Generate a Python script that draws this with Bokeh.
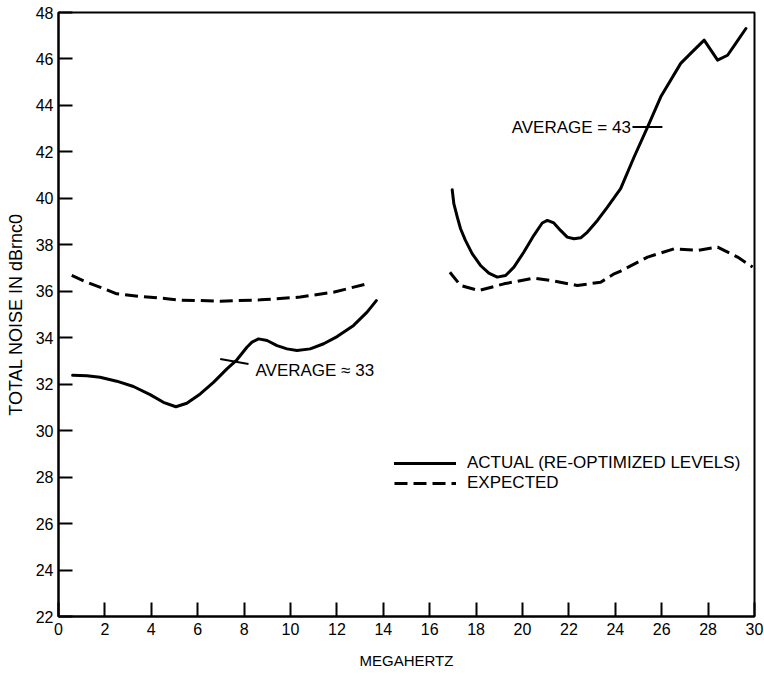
from bokeh.plotting import figure
from bokeh.models import Range1d, FixedTicker, Legend, LegendItem
from bokeh.embed import file_html
from bokeh.resources import INLINE

# Measured noise, lower band (0.6-13.7 MHz)
low_mhz_actual = [0.61, 1.22, 1.79, 2.51, 3.23, 3.95, 4.52, 5.06, 5.53, 6.11, 6.68, 7.26, 7.69,
                  8.12, 8.34, 8.62, 8.99, 9.42, 9.85, 10.28, 10.85, 11.43, 12.01, 12.72, 13.3, 13.7]
low_db_actual = [32.38, 32.36, 32.3, 32.13, 31.9, 31.55, 31.22, 31.03, 31.18, 31.58, 32.08, 32.66, 33.05,
                 33.59, 33.81, 33.95, 33.88, 33.66, 33.52, 33.45, 33.52, 33.74, 34.05, 34.53, 35.1, 35.6]

# Expected noise, lower band
low_mhz_expected = [0.57, 1.2, 1.78, 2.51, 3.5, 4.67, 5.24, 6.1, 6.97, 8.7, 10.42, 11.85, 13.3]
low_db_expected = [36.68, 36.4, 36.18, 35.89, 35.78, 35.68, 35.62, 35.6, 35.57, 35.63, 35.75, 35.96, 36.32]

# Measured noise, upper band (17-29.6 MHz)
high_mhz_actual = [16.97, 17.04, 17.19, 17.33, 17.54, 17.83, 18.19, 18.55, 18.91, 19.27, 19.63,
                   20.06, 20.49, 20.85, 21.07, 21.35, 21.64, 21.93, 22.22, 22.51, 22.8, 23.23,
                   23.66, 24.23, 24.81, 25.39, 25.96, 26.82, 27.25, 27.83, 28.12, 28.41, 28.84,
                   29.2, 29.63]
high_db_actual = [40.37, 39.77, 39.19, 38.69, 38.19, 37.62, 37.11, 36.78, 36.61, 36.68, 37.04,
                  37.69, 38.41, 38.94, 39.05, 38.94, 38.62, 38.33, 38.26, 38.3, 38.55, 39.05,
                  39.62, 40.42, 41.78, 43.07, 44.37, 45.81, 46.24, 46.81, 46.38, 45.95, 46.16,
                  46.68, 47.31]

# Expected noise, upper band
high_mhz_expected = [16.87, 17.33, 18.12, 19.2, 20.49, 21.36, 22.36, 23.37, 23.95, 24.23, 25.39,
                     26.54, 27.55, 28.41, 29.27, 29.92]
high_db_expected = [36.82, 36.25, 36.03, 36.32, 36.57, 36.44, 36.25, 36.39, 36.75, 36.87, 37.47,
                    37.83, 37.76, 37.9, 37.47, 37.04]

# Average markers: short crossing strokes and their labels
avg_x0 = [6.97, 24.74]
avg_y0 = [33.08, 43.07]
avg_x1 = [8.19, 26.03]
avg_y1 = [32.87, 43.07]
avg_labels = ["AVERAGE \u2248 33", "AVERAGE = 43"]
avg_label_x = [8.49, 24.67]
avg_label_y = [32.6, 43.07]
avg_label_align = ["left", "right"]

x_ticks = list(range(0, 31, 2))
y_ticks = list(range(22, 49, 2))

FONT = "Liberation Sans"

p = figure(width=764, height=674, output_backend="svg", toolbar_location=None,
           x_range=Range1d(0, 30), y_range=Range1d(22, 48),
           min_border_left=58, min_border_right=10, min_border_top=12, min_border_bottom=58)

p.grid.visible = False
p.background_fill_color = "white"
p.border_fill_color = "white"
p.outline_line_color = "black"
p.outline_line_width = 2

for ax in (p.xaxis[0], p.yaxis[0]):
    ax.axis_line_width = 2
    ax.axis_line_color = "black"
    ax.major_tick_in = 14
    ax.major_tick_out = 0
    ax.major_tick_line_width = 2
    ax.minor_tick_line_color = None
    ax.major_label_text_font = FONT
    ax.major_label_text_font_size = "16px"
    ax.major_label_text_color = "black"
    ax.axis_label_text_font = FONT
    ax.axis_label_text_font_style = "normal"
    ax.axis_label_text_color = "black"

p.xaxis.ticker = FixedTicker(ticks=x_ticks)
p.yaxis.ticker = FixedTicker(ticks=y_ticks)
p.xaxis.axis_label = "MEGAHERTZ"
p.yaxis.axis_label = "TOTAL NOISE IN dBrnc0"
p.xaxis.axis_label_text_font_size = "15px"
p.yaxis.axis_label_text_font_size = "18px"
p.xaxis.major_label_standoff = 6
p.yaxis.major_label_standoff = 5
p.xaxis.axis_label_standoff = 14
p.yaxis.axis_label_standoff = 7

solid = dict(line_color="black", line_width=3, line_join="round", line_cap="round")
dashed = dict(line_color="black", line_width=3, line_dash="13 6", line_join="round")

r_act = p.line(low_mhz_actual, low_db_actual, **solid)
p.line(high_mhz_actual, high_db_actual, **solid)
r_exp = p.line(low_mhz_expected, low_db_expected, **dashed)
p.line(high_mhz_expected, high_db_expected, **dashed)

p.segment(x0=avg_x0, y0=avg_y0, x1=avg_x1, y1=avg_y1, line_color="black", line_width=2)
for lx, ly, txt, al in zip(avg_label_x, avg_label_y, avg_labels, avg_label_align):
    p.text(x=[lx], y=[ly], text=[txt], text_align=al, text_baseline="middle",
           text_font_size="17px", text_color="black", text_font={"value": FONT})

legend = Legend(items=[LegendItem(label="ACTUAL (RE-OPTIMIZED LEVELS)", renderers=[r_act]),
                       LegendItem(label="EXPECTED", renderers=[r_exp])],
                location=(336, 123), glyph_width=62, glyph_height=18, spacing=0,
                label_text_font=FONT, label_text_font_size="17px", label_text_color="black",
                label_standoff=11,
                background_fill_alpha=0, border_line_color=None, padding=0, margin=0)
p.add_layout(legend)

open("out.html", "w").write(file_html(p, INLINE))
